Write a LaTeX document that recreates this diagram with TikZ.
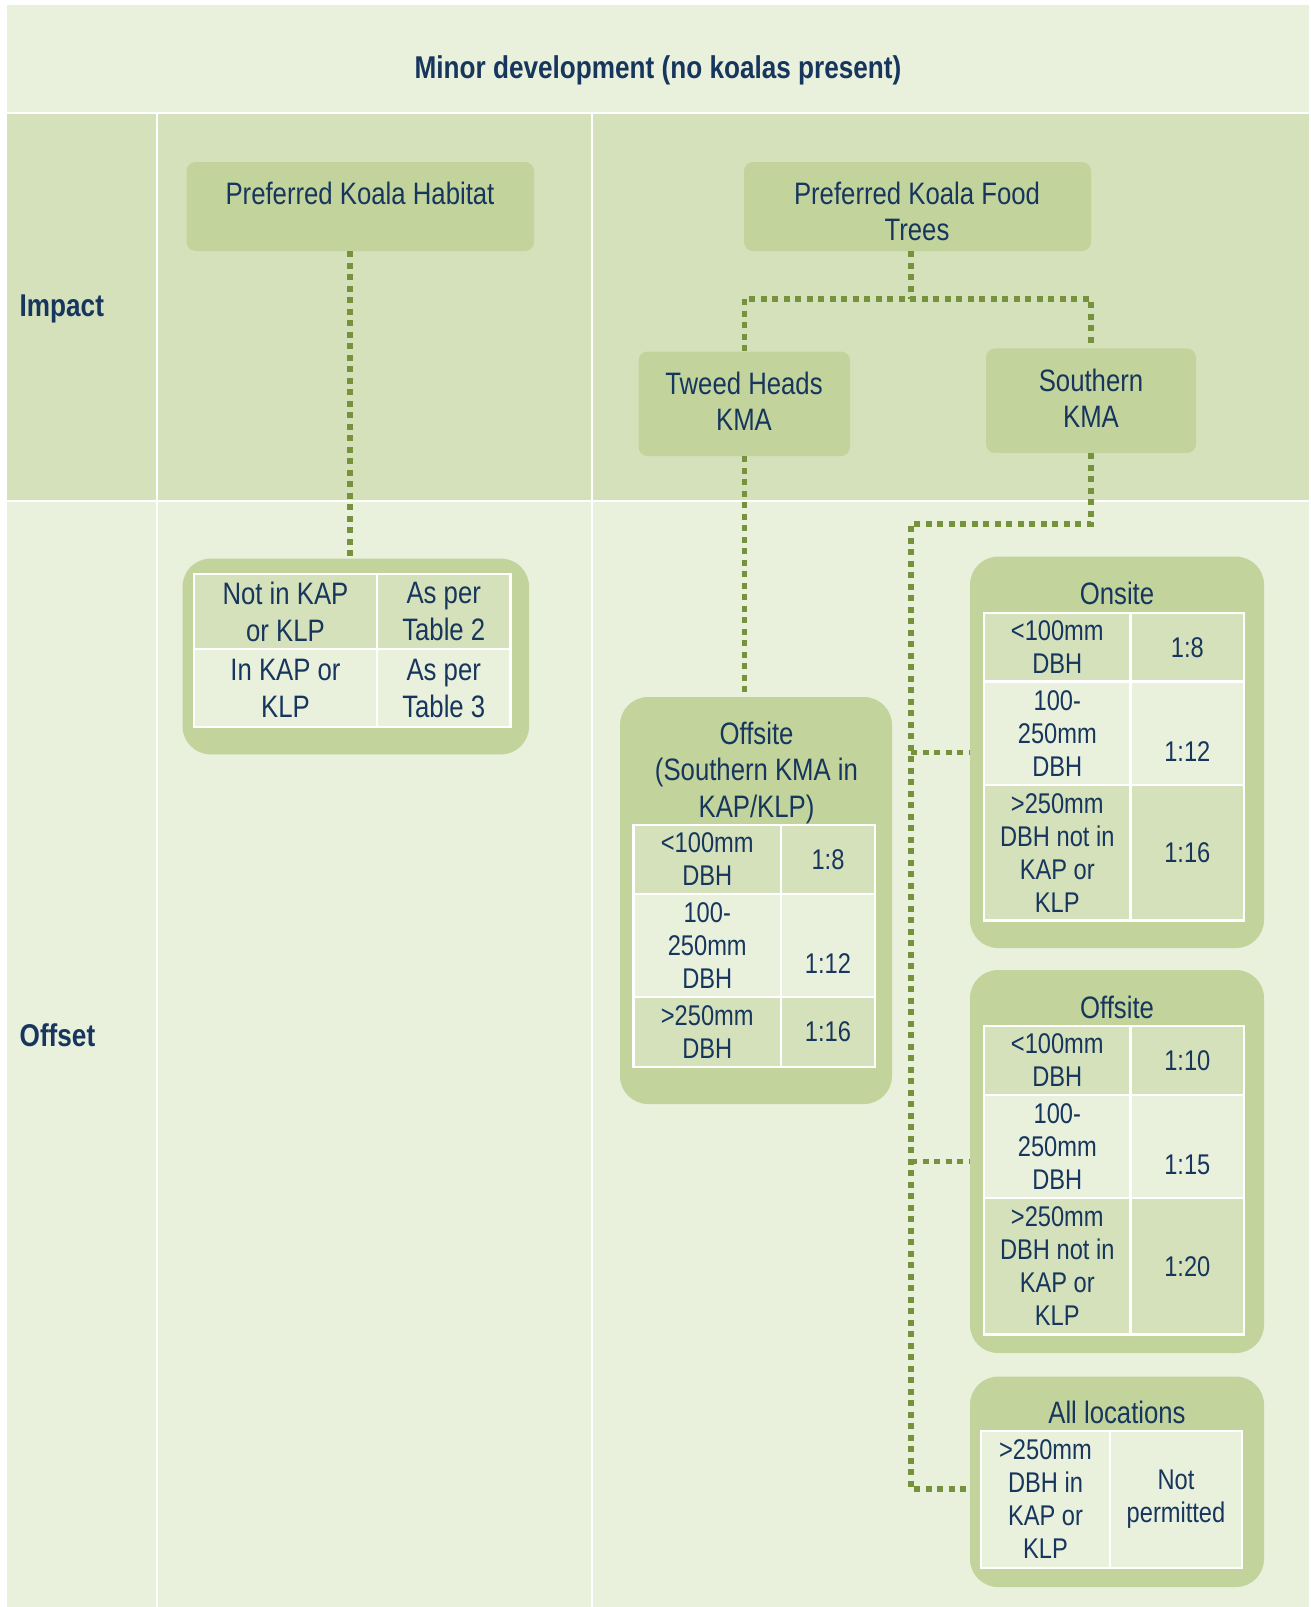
\documentclass[tikz,border=0pt]{standalone}
\usepackage{fontspec}
\setmainfont{Liberation Sans}[FakeStretch=0.83]
\definecolor{lightg}{HTML}{E9F0DC}
\definecolor{midg}{HTML}{D5E1BA}
\definecolor{boxg}{HTML}{C2D49C}
\definecolor{dotg}{HTML}{77923C}
\definecolor{navy}{HTML}{17365D}
\newcommand{\bigf}{\fontsize{31}{36.5}\selectfont}
\newcommand{\tabf}{\fontsize{28.5}{33}\selectfont}
\newcommand{\habf}{\fontsize{31}{37}\selectfont}
\newcommand{\lowtext}[1]{\raisebox{-27.7pt}[0pt][0pt]{#1}}
% \tcell{name}{x1}{y1}{x2}{y2}{fill}{font}{text}
\newcommand{\tcell}[8]{\node[cellbox,fill=#6,font=#7,minimum width={(#4-#2)*1pt},minimum height={(#5-#3)*1pt}] (#1) at ({(#2+#4)/2},{(#3+#5)/2}) {#8};}
\begin{document}
\begin{tikzpicture}[x=1pt,y=-1pt,
  topbox/.style={fill=boxg,draw=none,rounded corners=9pt,inner sep=0pt},
  outerbox/.style={fill=boxg,draw=none,rounded corners=28pt,inner sep=0pt},
  cellbox/.style={draw=white,line width=2.5pt,inner sep=0pt,align=center,text=navy},
  lbl/.style={text=navy,align=center,inner sep=0pt,font=\bigf},
  headf/.style={text=navy,inner sep=0pt,font={\fontsize{31.5}{36}\selectfont\bfseries}},
  conn/.style={draw=dotg,line width=5.5pt,dash pattern=on 6pt off 5.5pt}]
\useasboundingbox (0,0) rectangle (1310,1607);
\fill[white] (0,0) rectangle (1310,1607);
% background bands
\fill[lightg] (7,5) rectangle (1309,111.7);
\fill[midg] (7,114) rectangle (156,500);
\fill[midg] (158,114) rectangle (591,500);
\fill[midg] (593,114) rectangle (1309,500);
\fill[lightg] (7,502) rectangle (156,1607);
\fill[lightg] (158,502) rectangle (591,1607);
\fill[lightg] (593,502) rectangle (1309,1607);
% headings
\node[headf] (title) at (658,70.5) {Minor development (no koalas present)};
\node[headf,anchor=west] (impact) at (19.5,308.5) {Impact};
\node[headf,anchor=west] (offset) at (19.5,1035) {Offset};
% top boxes
\node[topbox,minimum width=347.5pt,minimum height=89pt] (habitat) at (360.3,206.5) {};
\node[lbl] (habitatT) at (360,193) {Preferred Koala Habitat};
\node[topbox,minimum width=347pt,minimum height=89pt] (food) at (917.5,206.5) {};
\node[lbl] (foodT) at (917,211.5) {Preferred Koala Food\\Trees};
\node[topbox,minimum width=211.5pt,minimum height=104.5pt] (tweed) at (744.3,403.8) {};
\node[lbl] (tweedT) at (744,401.5) {Tweed Heads\\KMA};
\node[topbox,minimum width=210pt,minimum height=104.5pt] (southern) at (1091,400.7) {};
\node[lbl] (southernT) at (1091,398.5) {Southern\\KMA};
% lower boxes
\node[outerbox,minimum width=346.5pt,minimum height=195.8pt] (habtab) at (355.8,656.5) {};
\node[outerbox,minimum width=272pt,minimum height=407pt] (offL) at (756,900.5) {};
\node[outerbox,minimum width=294pt,minimum height=391.4pt] (onsite) at (1117,752.3) {};
\node[outerbox,minimum width=294pt,minimum height=383pt] (offR) at (1117,1161.5) {};
\node[outerbox,minimum width=294pt,minimum height=210.4pt] (alloc) at (1117,1481.8) {};
% connectors
\coordinate (hx) at (350,0);
\draw[conn] (habitat.south -| hx) -- (habtab.north -| hx);
\coordinate (fx) at (911,299);
\draw[conn] (food.south -| fx) -- (fx);
\draw[conn] (tweed.north) |- (fx) -| (southern.north);
\draw[conn] (tweed.south) -- (tweed.south |- offL.north);
\coordinate (t1) at (911,524);
\coordinate (t2) at (911,1489);
\draw[conn] (southern.south) |- (t1) -- (t2) -- (alloc.west |- t2);
\draw[conn] (onsite.west -| t1) -- (onsite.west);
\draw[conn] (offR.west -| t1) -- (offR.west);
% habitat table
\tcell{h11}{194}{574}{377}{649}{midg}{\habf}{Not in KAP\\or KLP}
\tcell{h12}{377}{574}{510.5}{649}{midg}{\habf}{As per\\Table 2}
\tcell{h21}{194}{649}{377}{727}{lightg}{\habf}{In KAP or\\KLP}
\tcell{h22}{377}{649}{510.5}{727}{lightg}{\habf}{As per\\Table 3}
% tweed offsite
\node[lbl] (offLT) at (756.5,772.5) {Offsite\\(Southern KMA in\\KAP/KLP)};
\tcell{a11}{633.5}{825}{781}{894}{midg}{\tabf}{<100mm\\DBH}
\tcell{a12}{781}{825}{875}{894}{midg}{\tabf}{1:8}
\tcell{a21}{633.5}{894}{781}{997}{lightg}{\tabf}{100-\\250mm\\DBH}
\tcell{a22}{781}{894}{875}{997}{lightg}{\tabf}{\lowtext{1:12}}
\tcell{a31}{633.5}{997}{781}{1067}{midg}{\tabf}{>250mm\\DBH}
\tcell{a32}{781}{997}{875}{1067}{midg}{\tabf}{1:16}
% onsite
\node[lbl] (onsiteT) at (1117,593.5) {Onsite};
\tcell{b11}{984}{613}{1130.6}{681.6}{midg}{\tabf}{<100mm\\DBH}
\tcell{b12}{1130.6}{613}{1244}{681.6}{midg}{\tabf}{1:8}
\tcell{b21}{984}{681.6}{1130.6}{785}{lightg}{\tabf}{100-\\250mm\\DBH}
\tcell{b22}{1130.6}{681.6}{1244}{785}{lightg}{\tabf}{\lowtext{1:12}}
\tcell{b31}{984}{785}{1130.6}{920.5}{midg}{\tabf}{>250mm\\DBH not in\\KAP or\\KLP}
\tcell{b32}{1130.6}{785}{1244}{920.5}{midg}{\tabf}{1:16}
% offsite right
\node[lbl] (offRT) at (1117,1007.5) {Offsite};
\tcell{c11}{984}{1026}{1130.6}{1095}{midg}{\tabf}{<100mm\\DBH}
\tcell{c12}{1130.6}{1026}{1244}{1095}{midg}{\tabf}{1:10}
\tcell{c21}{984}{1095}{1130.6}{1198}{lightg}{\tabf}{100-\\250mm\\DBH}
\tcell{c22}{1130.6}{1095}{1244}{1198}{lightg}{\tabf}{\lowtext{1:15}}
\tcell{c31}{984}{1198}{1130.6}{1334.5}{midg}{\tabf}{>250mm\\DBH not in\\KAP or\\KLP}
\tcell{c32}{1130.6}{1198}{1244}{1334.5}{midg}{\tabf}{1:20}
% all locations
\node[lbl] (allocT) at (1117,1412.5) {All locations};
\tcell{d11}{981}{1431}{1110}{1568}{lightg}{\tabf}{>250mm\\DBH in\\KAP or\\KLP}
\tcell{d12}{1110}{1431}{1242}{1568}{lightg}{\tabf}{Not\\permitted}
\end{tikzpicture}
\end{document}
